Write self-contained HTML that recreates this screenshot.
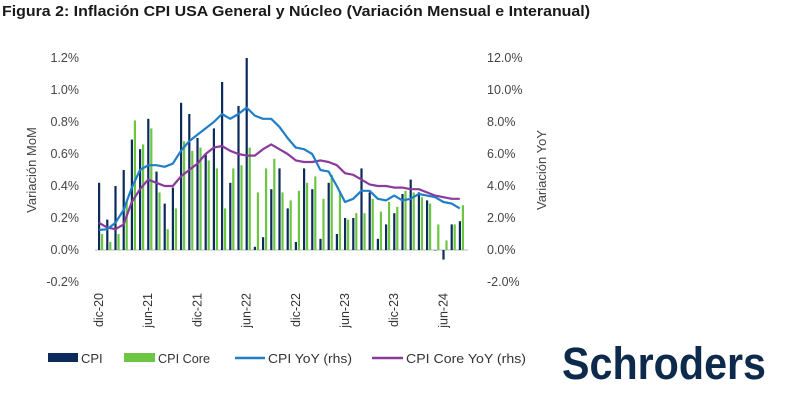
<!DOCTYPE html>
<html><head><meta charset="utf-8">
<style>
body{margin:0;width:800px;height:404px;background:#fff;overflow:hidden;font-family:"Liberation Sans",sans-serif;}
svg text{font-family:"Liberation Sans",sans-serif;}
</style></head>
<body>
<svg id="chart" width="800" height="404" viewBox="0 0 800 404" xmlns="http://www.w3.org/2000/svg">
<text x="2" y="16" font-size="14.5" font-weight="bold" fill="#1a1a1a" textLength="588" lengthAdjust="spacingAndGlyphs">Figura 2: Inflación CPI USA General y Núcleo (Variación Mensual e Interanual)</text>
<text transform="translate(36,170) rotate(-90)" text-anchor="middle" font-size="13" fill="#444">Variación MoM</text>
<text transform="translate(546,170) rotate(-90)" text-anchor="middle" font-size="13" fill="#444">Variación YoY</text>
<g id="axes"></g>
<g id="bars"></g>
<g id="lines"></g>
<g font-size="13" fill="#333">
<rect x="48" y="353" width="30" height="9" fill="#0d2a5c"/>
<text x="81" y="363">CPI</text>
<rect x="124" y="353" width="31" height="9" fill="#6cc644"/>
<text x="158" y="363" textLength="52" lengthAdjust="spacingAndGlyphs">CPI Core</text>
<line x1="235" y1="358" x2="265" y2="358" stroke="#1f7ec8" stroke-width="2.5"/>
<text x="268" y="363" textLength="84" lengthAdjust="spacingAndGlyphs">CPI YoY (rhs)</text>
<line x1="372" y1="358" x2="403" y2="358" stroke="#8a3a9a" stroke-width="2.5"/>
<text x="406" y="363" textLength="120" lengthAdjust="spacingAndGlyphs">CPI Core YoY (rhs)</text>
</g>
<text x="562" y="379" font-size="45" font-weight="bold" fill="#0d2a4c" textLength="204" lengthAdjust="spacingAndGlyphs">Schroders</text>
</svg>
<script>
const cpiMoM=[0.42,0.19,0.40,0.50,0.69,0.63,0.82,0.49,0.29,0.39,0.92,0.85,0.70,0.60,0.76,1.05,0.42,0.90,1.20,0.02,0.08,0.38,0.51,0.26,0.05,0.51,0.38,0.07,0.42,0.10,0.20,0.20,0.51,0.36,0.07,0.16,0.23,0.35,0.44,0.36,0.31,0.00,-0.06,0.16,0.18];
const coreMoM=[0.10,0.05,0.10,0.30,0.81,0.66,0.76,0.36,0.13,0.26,0.68,0.62,0.64,0.56,0.51,0.26,0.51,0.53,0.64,0.36,0.51,0.57,0.36,0.31,0.37,0.42,0.46,0.32,0.47,0.36,0.19,0.23,0.23,0.32,0.24,0.30,0.27,0.37,0.36,0.33,0.29,0.16,0.06,0.16,0.28];
const cpiYoY=[1.25,1.3,1.7,2.5,3.9,5.0,5.3,5.3,5.2,5.4,6.2,6.8,7.2,7.6,8.0,8.5,8.2,8.5,8.9,8.4,8.2,8.2,7.7,7.0,6.4,6.3,6.0,5.0,4.9,4.0,3.0,3.2,3.7,3.7,3.2,3.1,3.4,3.1,3.2,3.5,3.4,3.3,3.0,2.9,2.6];
const coreYoY=[1.7,1.4,1.3,1.6,3.0,3.8,4.4,4.2,4.0,4.0,4.6,5.0,5.4,6.0,6.4,6.5,6.2,6.0,5.9,5.9,6.3,6.6,6.3,6.0,5.6,5.5,5.5,5.6,5.5,5.3,4.8,4.7,4.4,4.1,4.0,4.0,3.9,3.9,3.8,3.8,3.6,3.4,3.3,3.2,3.2];
const leftTicks=[-0.2,0,0.2,0.4,0.6,0.8,1.0,1.2];
const rightTicks=[-2,0,2,4,6,8,10,12];
const xLabels=["dic-20","jun-21","dic-21","jun-22","dic-22","jun-23","dic-23","jun-24"];
const xLabelIdx=[0,6,12,18,24,30,36,42];

const NS="http://www.w3.org/2000/svg";
const X0=99,STEP=8.2,Y0=250;
const xs=i=>X0+i*STEP;
const yL=v=>Y0-v*160;
const yR=v=>Y0-v*16;
function mk(tag,attrs,parent){const e=document.createElementNS(NS,tag);for(const k in attrs)e.setAttribute(k,attrs[k]);parent.appendChild(e);return e;}
const axes=document.getElementById('axes'),bars=document.getElementById('bars'),lines=document.getElementById('lines');

leftTicks.forEach(v=>{
  const t=mk('text',{x:79,y:yL(v)+4,'text-anchor':'end','font-size':'12.5',fill:'#444'},axes);
  
  
  t.textContent=v.toFixed(1)+'%';
});
rightTicks.forEach(v=>{
  const t=mk('text',{x:487,y:yR(v)+4,'font-size':'12.5',fill:'#444'},axes);
  
  
  t.textContent=v.toFixed(1)+'%';
});
xLabels.forEach((s,k)=>{
  const x=xs(xLabelIdx[k])+4;
  const t=mk('text',{transform:`translate(${x},293) rotate(-90)`,'text-anchor':'end','font-size':'12.5',fill:'#333'},axes);
  
  
  t.textContent=s;
});
const zl=mk('line',{x1:95,x2:468,y1:Y0,y2:Y0,stroke:'#bbb','stroke-width':1},axes);



cpiMoM.forEach((v,i)=>{
  const y=yL(v),h=Math.abs(y-Y0);
  const r=mk('rect',{x:xs(i)-1,y:Math.min(y,Y0),width:2.2,height:Math.max(h,0.5),fill:'#0d2a5c'},bars);
  
  
});
coreMoM.forEach((v,i)=>{
  const y=yL(v),h=Math.abs(y-Y0);
  const r=mk('rect',{x:xs(i)+2,y:Math.min(y,Y0),width:2.2,height:Math.max(h,0.5),fill:'#6cc644'},bars);
  
  
});
function line(arr,color,name){
  const d=arr.map((v,i)=>(i?'L':'M')+xs(i).toFixed(1)+','+yR(v).toFixed(1)).join(' ');
  const p=mk('path',{d:d,fill:'none',stroke:color,'stroke-width':2.2,'stroke-linejoin':'round'},lines);
  
  
}
line(coreYoY,'#8a3a9a','line-cpi-core-yoy');
line(cpiYoY,'#1f7ec8','line-cpi-yoy');
</script>
</body></html>
